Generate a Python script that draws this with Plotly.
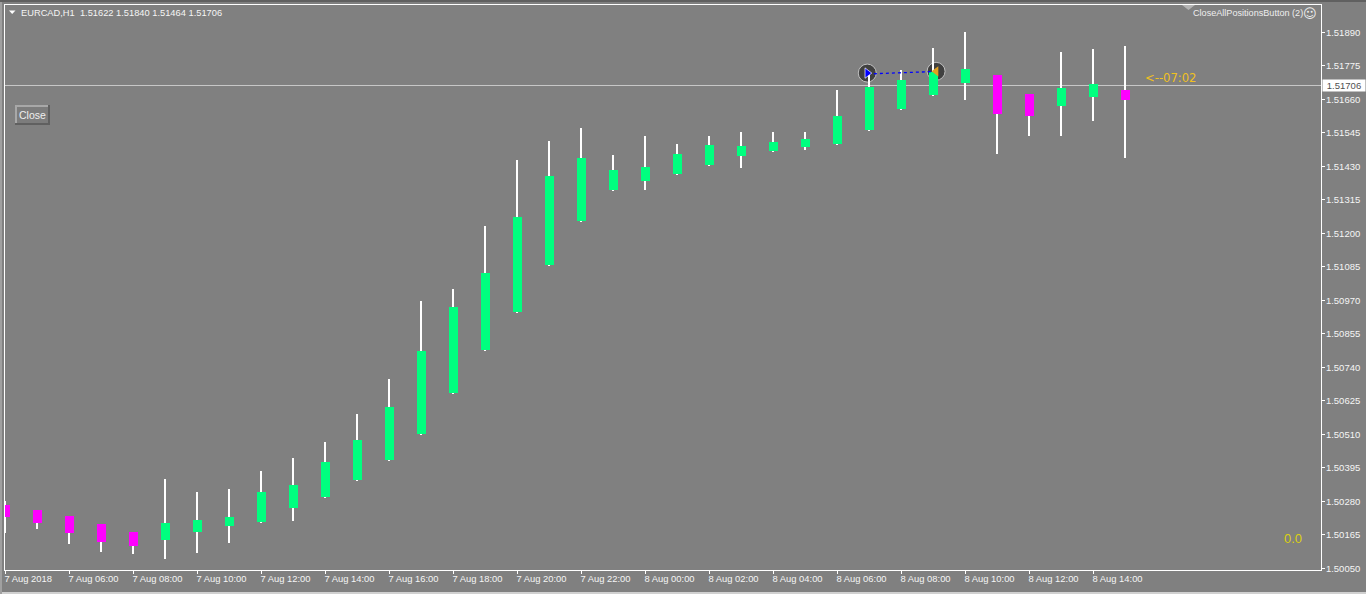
import plotly.graph_objects as go

# --- data ---------------------------------------------------------------------
opens = [1.50267, 1.50250, 1.50229, 1.50202, 1.50175, 1.50147, 1.50175, 1.50195, 1.50209, 1.50257, 1.50295, 1.50353,
         1.50422, 1.50511, 1.50652, 1.50799, 1.50930, 1.51091, 1.51242, 1.51349, 1.51379, 1.51404, 1.51434, 1.51465,
         1.51482, 1.51496, 1.51507, 1.51555, 1.51627, 1.51675, 1.51716, 1.51743, 1.51678, 1.51637, 1.51668, 1.51692]
highs = [1.50281, 1.50250, 1.50229, 1.50202, 1.50175, 1.50356, 1.50312, 1.50322, 1.50384, 1.50429, 1.50484, 1.50580,
         1.50700, 1.50968, 1.51009, 1.51225, 1.51452, 1.51517, 1.51561, 1.51469, 1.51534, 1.51507, 1.51534, 1.51548,
         1.51548, 1.51548, 1.51692, 1.51754, 1.51761, 1.51836, 1.51891, 1.51743, 1.51678, 1.51822, 1.51833, 1.51843]
lows = [1.50172, 1.50185, 1.50133, 1.50106, 1.50099, 1.50082, 1.50102, 1.50137, 1.50205, 1.50212, 1.50291, 1.50350,
        1.50418, 1.50508, 1.50648, 1.50796, 1.50926, 1.51088, 1.51239, 1.51345, 1.51349, 1.51400, 1.51431, 1.51424,
        1.51479, 1.51486, 1.51503, 1.51551, 1.51623, 1.51671, 1.51658, 1.51472, 1.51534, 1.51534, 1.51585, 1.51458]
closes = [1.50226, 1.50205, 1.50171, 1.50140, 1.50126, 1.50205, 1.50216, 1.50226, 1.50312, 1.50336, 1.50415, 1.50490,
          1.50604, 1.50796, 1.50947, 1.51064, 1.51256, 1.51397, 1.51458, 1.51417, 1.51428, 1.51472, 1.51503, 1.51500,
          1.51513, 1.51524, 1.51603, 1.51702, 1.51726, 1.51754, 1.51764, 1.51609, 1.51603, 1.51699, 1.51712, 1.51658]

x_tick_bars = [0, 2, 4, 6, 8, 10, 12, 14, 16, 18, 20, 22, 24, 26, 28, 30, 32, 34]
x_tick_labels = ["7 Aug 2018", "7 Aug 06:00", "7 Aug 08:00", "7 Aug 10:00", "7 Aug 12:00", "7 Aug 14:00",
                 "7 Aug 16:00", "7 Aug 18:00", "7 Aug 20:00", "7 Aug 22:00", "8 Aug 00:00", "8 Aug 02:00",
                 "8 Aug 04:00", "8 Aug 06:00", "8 Aug 08:00", "8 Aug 10:00", "8 Aug 12:00", "8 Aug 14:00"]
y_ticks = [1.51890, 1.51775, 1.51660, 1.51545, 1.51430, 1.51315, 1.51200, 1.51085, 1.50970,
           1.50855, 1.50740, 1.50625, 1.50510, 1.50395, 1.50280, 1.50165, 1.50050]
last_price = 1.51706
price_line_level = 1.517074
trade_x = [26.93, 29.08]
trade_y = [1.51750, 1.51756]
line_x = [26.95, 28.95]
line_y = [1.51747, 1.51755]

# --- styling ------------------------------------------------------------------
GREY = "#808080"
UP = "#00ff7f"
DOWN = "#ff00ff"
TEXT = "#f5f5f5"
FONT = "Liberation Sans"
W, H = 1366, 594
L, T, PW, PH = 5, 5, 1316, 565


def xp(px):
    return (px - L) / PW


def yp(py):
    return (T + PH - py) / PH


bars = list(range(len(opens)))
body_base = [min(o, c) for o, c in zip(opens, closes)]
body_size = [abs(o - c) for o, c in zip(opens, closes)]
body_col = [UP if c >= o else DOWN for o, c in zip(opens, closes)]

fig = go.Figure()
fig.add_bar(x=bars, base=lows, y=[h - l for h, l in zip(highs, lows)], width=2 / 32, offset=-1.5 / 32,
            marker=dict(color="#ffffff", line_width=0), hoverinfo="skip")
fig.add_bar(x=bars, base=body_base, y=body_size, width=9 / 32,
            marker=dict(color=body_col, line_width=0), hoverinfo="skip")
fig.add_scatter(x=line_x, y=line_y, mode="lines", line=dict(color="#0000ff", width=1.3, dash="3px,3px"),
                hoverinfo="skip")
fig.add_scatter(x=trade_x[:1], y=trade_y[:1], mode="markers",
                marker=dict(symbol="triangle-right", size=9, color="#0000ff", line=dict(color="#ffffff", width=0.7)),
                hoverinfo="skip")
fig.add_scatter(x=trade_x[1:], y=trade_y[1:], mode="markers",
                marker=dict(symbol="triangle-left", size=9, color="#e0a020", line=dict(color="#e0a020", width=0)),
                hoverinfo="skip")

shapes = [
    dict(type="line", xref="paper", x0=0, x1=1, yref="y", y0=price_line_level, y1=price_line_level,
         line=dict(color="#c8c8c8", width=1), layer="below"),
    # window edges
    dict(type="rect", xref="paper", yref="paper", x0=xp(0), x1=xp(W), y0=yp(2), y1=yp(0),
         fillcolor="#606060", line_width=0),
    dict(type="rect", xref="paper", yref="paper", x0=xp(0), x1=xp(W), y0=yp(594), y1=yp(592),
         fillcolor="#d0d0d0", line_width=0),
    dict(type="rect", xref="paper", yref="paper", x0=xp(0), x1=xp(2), y0=yp(594), y1=yp(2),
         fillcolor="#a0a0a0", line_width=0),
    # collapse triangles
    dict(type="path", xref="paper", yref="paper",
         path=f"M{xp(9)},{yp(10.5)} L{xp(15.5)},{yp(10.5)} L{xp(12.2)},{yp(14)} Z", fillcolor="#ffffff", line_width=0),
    dict(type="path", xref="paper", yref="paper",
         path=f"M{xp(1182)},{yp(5)} L{xp(1195)},{yp(5)} L{xp(1188.5)},{yp(10)} Z", fillcolor="#b4b4b4", line_width=0),
    # Close button bevel
    dict(type="rect", xref="paper", yref="paper", x0=xp(15), x1=xp(50), y0=yp(125), y1=yp(105),
         fillcolor="#a8a8a8", line_width=0),
    dict(type="path", xref="paper", yref="paper",
         path=f"M{xp(50)},{yp(105)} L{xp(50)},{yp(125)} L{xp(15)},{yp(125)} L{xp(15)},{yp(123)} "
              f"L{xp(48)},{yp(123)} L{xp(48)},{yp(105)} Z", fillcolor="#606060", line_width=0),
    dict(type="rect", xref="paper", yref="paper", x0=xp(17), x1=xp(48), y0=yp(123), y1=yp(107),
         fillcolor="#7c7c7c", line_width=0),
]
# trade circles sit behind the candles
for tx, ty in zip(trade_x, trade_y):
    shapes.append(dict(type="circle", xref="x", yref="y", xsizemode="pixel", ysizemode="pixel",
                       xanchor=tx, yanchor=ty, x0=-9, x1=9, y0=-9, y1=9,
                       fillcolor="#404040", line=dict(color="#c0c0c0", width=1), layer="below"))


def label(text, px, py, size=9.3, color=TEXT, family=FONT, **kw):
    return dict(text=text, xref="paper", yref="paper", x=xp(px), y=yp(py), xanchor="left", yanchor="middle",
                showarrow=False, font=dict(size=size, color=color, family=family), borderpad=0, **kw)


annotations = [
    label("EURCAD,H1  1.51622 1.51840 1.51464 1.51706", 19.5, 12.5),
    label("CloseAllPositionsButton (2)", 1191.5, 13.5, size=9.1, color="#eeeeee"),
    label("☺", 1302, 13.5, size=13, color="#eeeeee", family="DejaVu Sans"),
    label("Close", 18, 115, size=10.5, color="#eeeeee"),
    label("&lt;--07:02", 1143.5, 78, size=11.6, color="#f0c020", family="DejaVu Sans"),
    label("0.0", 1283, 538, size=13, color="#dcd010", family="Liberation Sans"),
    dict(text=f"{last_price:.5f}", xref="paper", yref="y", x=xp(1322), y=last_price, xanchor="left", yanchor="middle",
         showarrow=False, font=dict(size=9.5, color="#505050", family=FONT), bgcolor="#ffffff",
         width=42, height=11, align="center", borderpad=0),
]

fig.update_layout(
    width=W, height=H, autosize=False, showlegend=False, barmode="overlay", bargap=0,
    margin=dict(l=L, t=T, r=W - L - PW, b=H - T - PH, pad=0),
    paper_bgcolor=GREY, plot_bgcolor=GREY, font=dict(family=FONT, size=9.5, color=TEXT),
    shapes=shapes, annotations=annotations, hovermode=False,
    xaxis=dict(range=[-0.0156, 41.109], tickmode="array", tickvals=x_tick_bars, ticktext=x_tick_labels,
               ticklabelposition="outside right", ticklabelshift=-2, ticks="outside", ticklen=3, tickwidth=1,
               tickcolor="#ffffff", showgrid=False, zeroline=False, showline=True, linecolor="#ffffff", linewidth=1,
               mirror=True, tickangle=0, tickfont=dict(size=9.4, color=TEXT, family=FONT), fixedrange=True),
    yaxis=dict(range=[1.500441, 1.519837], side="right", tickmode="array", tickvals=y_ticks,
               ticktext=[f"{v:.5f}" for v in y_ticks], ticks="outside", ticklen=3, tickwidth=1, tickcolor="#ffffff",
               ticklabelstandoff=-1, showgrid=False, zeroline=False, showline=True, linecolor="#ffffff", linewidth=1,
               mirror=True, tickfont=dict(size=9.5, color=TEXT, family=FONT), fixedrange=True),
)

fig.write_html("out.html", config=dict(displayModeBar=False),
               post_script="document.body.style.margin='0';document.body.style.overflow='hidden';")
